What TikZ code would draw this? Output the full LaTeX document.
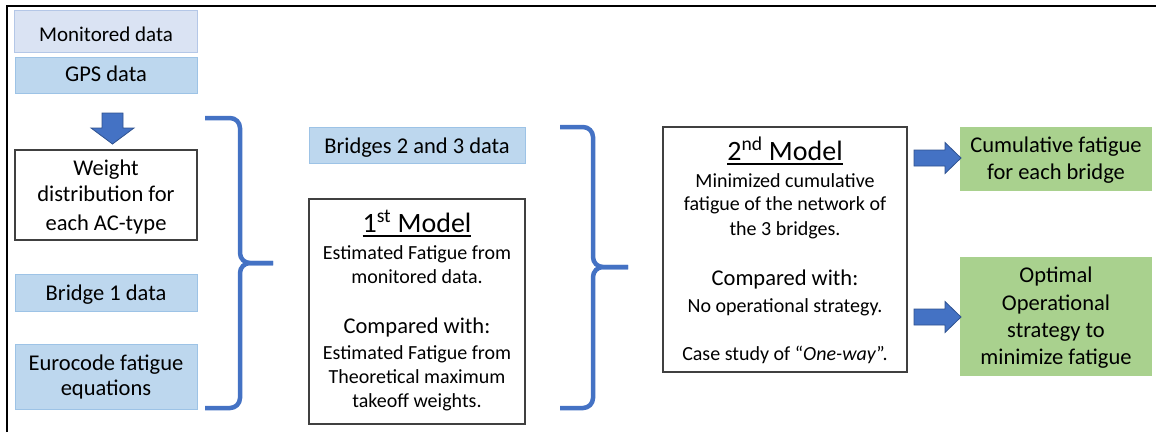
\documentclass[tikz,border=0pt]{standalone}
\usepackage{fontspec}
\setmainfont{Carlito}
\usetikzlibrary{calc}
\definecolor{monfill}{HTML}{DAE3F3}
\definecolor{monedge}{HTML}{B4C7E7}
\definecolor{datafill}{HTML}{BDD7EE}
\definecolor{dataedge}{HTML}{9DC3E6}
\definecolor{resfill}{HTML}{A9D18E}
\definecolor{accent}{HTML}{4472C4}
\definecolor{accentedge}{HTML}{2F528F}
\definecolor{boxedge}{HTML}{404040}
\begin{document}
\begin{tikzpicture}[x=1pt,y=-1pt,
  every node/.style={inner sep=0pt,outer sep=0pt},
  frameline/.style={line width=2.5pt,draw=black},
  basebox/.style={anchor=north west,line width=1pt},
  monbox/.style={basebox,fill=monfill,draw=monedge},
  databox/.style={basebox,fill=datafill,draw=dataedge},
  plainbox/.style={basebox,fill=white,draw=boxedge,line width=1.2pt},
  resbox/.style={basebox,fill=resfill},
  lbl/.style={anchor=base,font=\fontsize{22.5}{27}\selectfont},
  small/.style={anchor=base,font=\fontsize{20}{24}\selectfont},
  title/.style={anchor=base,font=\fontsize{28}{32}\selectfont},
  brace/.style={draw=accent,line width=4.5pt,rounded corners=10pt},
  blockarrow/.style={fill=accent,draw=accentedge,line width=0.8pt},
  uline/.style={line width=1.8pt,draw=black}]
\useasboundingbox (0,0) rectangle (1156,432);

% open frame: top and left edges
\draw[frameline] (7,432) -- (7,6) -- (1156,6);

% input column
\node[monbox,minimum width=183pt,minimum height=42pt] (mon) at (14,10) {};
\node[anchor=base,font=\fontsize{21}{25}\selectfont] (tmon) at (106,41.3) {Monitored data};
\node[databox,minimum width=182pt,minimum height=36pt] (gps) at (15,57) {};
\node[lbl] (tgps) at (106,81.7) {GPS data};

% down arrow
\coordinate (dtop) at (112.5,113);
\draw[blockarrow] ($(dtop)+(-10.5,0)$) -- ++(21,0) -- ++(0,15) -- ++(11,0)
  -- ($(dtop)+(0,31)$) -- ($(dtop)+(-21.5,15)$) -- ++(11,0) -- cycle;

\node[plainbox,minimum width=182pt,minimum height=90pt] (wd) at (15,150) {};
\node[lbl] (twd1) at (106,175) {Weight};
\node[lbl] (twd2) at (106,201.7) {distribution for};
\node[lbl] (twd3) at (106,230) {each AC-type};

\node[databox,minimum width=182pt,minimum height=37pt] (b1) at (15,274) {};
\node[lbl] (tb1) at (106,300) {Bridge 1 data};
\node[databox,minimum width=182pt,minimum height=65pt] (euro) at (15,344) {};
\node[lbl] (teu1) at (106,370) {Eurocode fatigue};
\node[lbl] (teu2) at (106,395) {equations};

% first brace
\coordinate (ba1) at (205,118);
\coordinate (bb1) at (205,408);
\coordinate (bt1) at (273,263);
\draw[brace] (ba1) -- (240,118) -- (240,263) -- (bt1);
\draw[brace] (bb1) -- (240,408) -- (240,263) -- (bt1);

% middle column
\node[databox,minimum width=216pt,minimum height=36pt] (b23) at (309,127) {};
\node[lbl] (tb23) at (417,153) {Bridges 2 and 3 data};

\node[plainbox,minimum width=216pt,minimum height=225pt] (m1) at (309,199) {};
\node[title] (m1t) at (417,232) {1\textsuperscript{st} Model};
\draw[uline] ([yshift=-4pt]m1t.base west) -- ([yshift=-4pt]m1t.base east);
\node[small] (m1a) at (417,259) {Estimated Fatigue from};
\node[small] (m1b) at (417,283) {monitored data.};
\node[lbl] (m1c) at (417,333) {Compared with:};
\node[small] (m1d) at (417,359) {Estimated Fatigue from};
\node[small] (m1e) at (417,383) {Theoretical maximum};
\node[small] (m1f) at (417,407) {takeoff weights.};

% second brace
\coordinate (ba2) at (560,127);
\coordinate (bb2) at (560,408);
\coordinate (bt2) at (628,267);
\draw[brace] (ba2) -- (593,127) -- (593,267) -- (bt2);
\draw[brace] (bb2) -- (593,408) -- (593,267) -- (bt2);

% second model
\node[plainbox,minimum width=244pt,minimum height=245pt] (m2) at (663,127) {};
\node[title] (m2t) at (785,160) {2\textsuperscript{nd} Model};
\draw[uline] ([yshift=-4pt]m2t.base west) -- ([yshift=-4pt]m2t.base east);
\node[small] (m2a) at (785,187) {Minimized cumulative};
\node[small] (m2b) at (785,210) {fatigue of the network of};
\node[small] (m2c) at (785,235) {the 3 bridges.};
\node[lbl] (m2d) at (785,285) {Compared with:};
\node[small] (m2e) at (785,312) {No operational strategy.};
\node[small] (m2f) at (785,360) {Case study of “\textit{One-way}”.};

% results
\node[resbox,minimum width=192pt,minimum height=64pt] (cum) at (960,127) {};
\node[lbl] (tc1) at (1056,152.7) {Cumulative fatigue};
\node[lbl] (tc2) at (1056,179) {for each bridge};
\node[resbox,minimum width=192pt,minimum height=119pt] (opt) at (960,257) {};
\node[lbl] (to1) at (1056,282.7) {Optimal};
\node[lbl] (to2) at (1056,310) {Operational};
\node[lbl] (to3) at (1056,337) {strategy to};
\node[lbl] (to4) at (1056,364) {minimize fatigue};

% block arrows towards the results
\foreach \yy/\nm in {158/ra,317/rb}{
  \coordinate (\nm) at (914,\yy);
  \draw[blockarrow] ($(\nm)+(0,-8)$) -- ++(31,0) -- ++(0,-7.5) -- ($(\nm)+(47,0)$)
    -- ($(\nm)+(31,15.5)$) -- ++(0,-7.5) -- ($(\nm)+(0,8)$) -- cycle;
}
\end{tikzpicture}
\end{document}
